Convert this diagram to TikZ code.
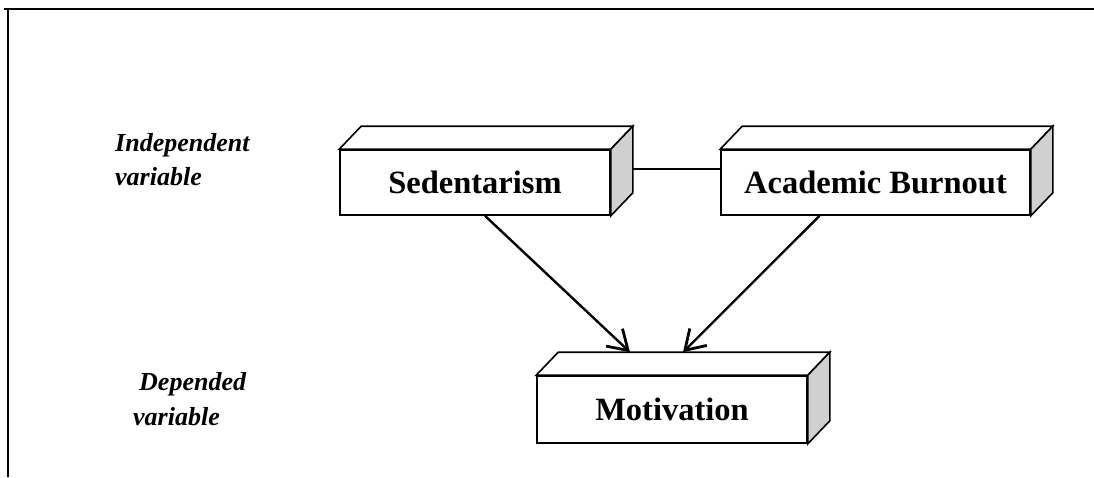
\documentclass[tikz,border=0pt]{standalone}
\usepackage{fontspec}
\setmainfont{Liberation Serif}
\usetikzlibrary{calc,arrows.meta}
\definecolor{sidegray}{RGB}{208,208,208}
\tikzset{
  front/.style={draw=black, line width=1.6pt, fill=white, inner sep=0pt,
    minimum height=65pt, font=\fontsize{32.5}{38}\selectfont\bfseries},
  face/.style={draw=black, line width=1.6pt, line join=miter},
  varlabel/.style={font=\fontsize{26}{34}\selectfont\bfseries\itshape, inner sep=0pt, anchor=base west},
  conn/.style={draw=black, line width=2.4pt},
  arr/.style={conn, -{Straight Barb[length=19pt,width=24pt,line width=2.8pt]}},
  frameline/.style={draw=black, line width=2pt}
}
\newcommand{\boxthreed}[1]{%
  \path[face, fill=white] (#1.north west) -- ++(22,-23) -- ($(#1.north east)+(22,-23)$) -- (#1.north east) -- cycle;
  \path[face, fill=sidegray] (#1.north east) -- ++(22,-23) -- ($(#1.south east)+(22,-23)$) -- (#1.south east) -- cycle;
}
\begin{document}
\begin{tikzpicture}[x=1pt,y=-1pt]
\useasboundingbox (0,0) rectangle (1094,477);
% frame
\coordinate (ftl) at (8,9);
\coordinate (ftr) at (1094,9);
\coordinate (fbl) at (8,477);
\draw[frameline] (ftr) -- (4,9);
\draw[frameline] (ftl) -- (fbl);
% boxes
\node[front, minimum width=270pt] (sed) at (475,182.5) {Sedentarism};
\boxthreed{sed}
\node[front, minimum width=309pt] (acad) at (875.5,182.5) {Academic Burnout};
\boxthreed{acad}
\node[front, minimum width=270pt, minimum height=67pt] (mot) at (672,409.5) {Motivation};
\boxthreed{mot}
% labels
\node[varlabel] (indep1) at (115,151) {Independent};
\node[varlabel] (indep2) at (115,185) {variable};
\node[varlabel] (dep1) at (139,390) {Depended};
\node[varlabel] (dep2) at (133,425) {variable};
% connectors
\coordinate (sedR) at ($(sed.north east)+(22,20)$);
\draw[conn, line width=1.8pt] (sedR) -- (sedR -| acad.west);
\draw[arr] ($(sed.south)+(10,0)$) -- ($(mot.north)+(-42,-23)$);
\draw[arr] ($(acad.south)+(-56,0)$) -- ($(mot.north)+(11,-23)$);
\end{tikzpicture}
\end{document}
